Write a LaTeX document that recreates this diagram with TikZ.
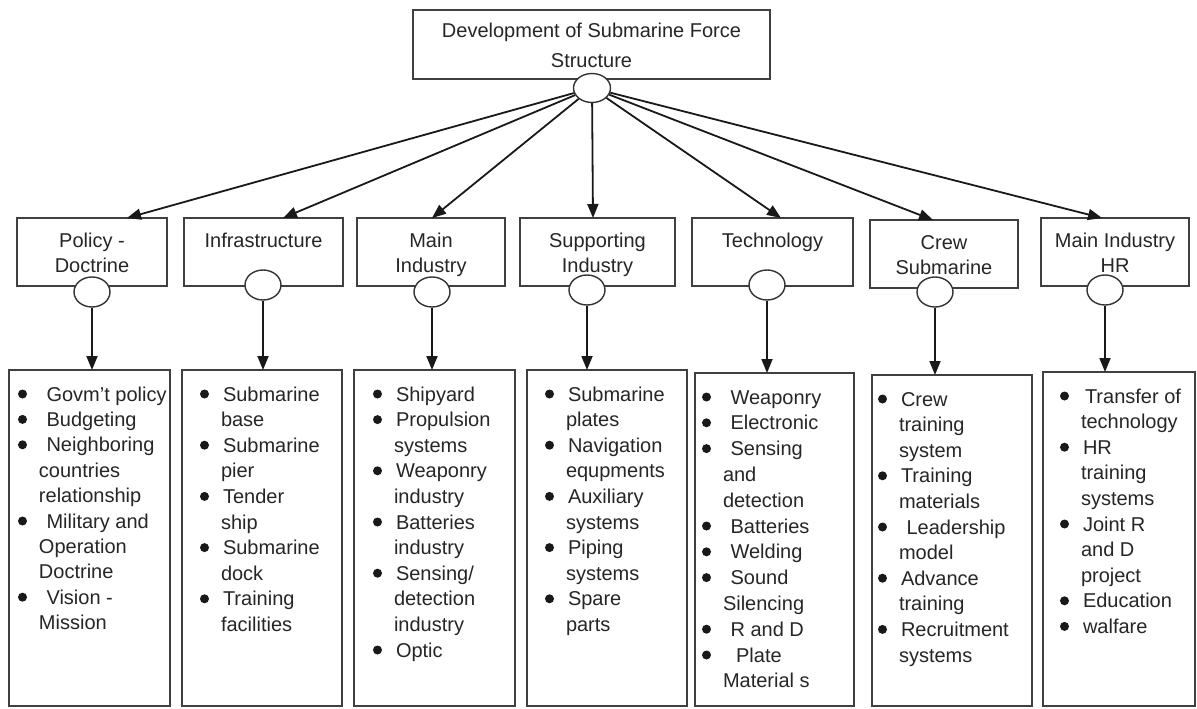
\documentclass[tikz,border=0pt]{standalone}
\usepackage{fontspec}
\setmainfont{Liberation Sans}
\usetikzlibrary{arrows.meta,shapes.geometric}

% list layout: bullet column and indent of wrapped lines
\newlength\bulletw \setlength\bulletw{23pt}
\newlength\contw \setlength\contw{21pt}
\newcommand\dotmark{\tikz[baseline=-7pt]\fill[black!90] (0pt,0pt) circle[radius=4.5pt];}
\newcommand\entry[1]{\makebox[\bulletw][l]{\dotmark}#1\par}
\newcommand\more[1]{\hspace*{\contw}#1\par}
% #1 width, #2 height, #3 left padding, #4 line pitch, #5 lines
\newcommand\listbody[5]{\parbox[c][#2][t]{#1}{\fontsize{20}{#4}\selectfont
  \leftskip=#3\relax\parindent=0pt\parskip=0pt\rule{0pt}{31pt}#5}}
\newcommand\midbody[2]{\parbox[c][68pt][t]{#1}{\centering\fontsize{20}{25}\selectfont
  \rule{0pt}{29pt}#2}}

\tikzset{
  frame/.style={draw=black!75, line width=1.4pt, inner sep=0pt, outer sep=0pt,
    fill=white, text=black!85, anchor=north west},
  joint/.style={ellipse, draw=black!80, line width=1.4pt, fill=white,
    minimum width=36pt, minimum height=30pt, inner sep=0pt},
  arr/.style={line width=1.8pt, draw=black!90, -{Triangle[length=14pt,width=11pt]}},
}

\begin{document}
\begin{tikzpicture}[x=1pt, y=-1pt]
\fill[white] (0,0) rectangle (1197,709);
\useasboundingbox (0,0) rectangle (1197,709);

% root
\node[frame] (top) at (413,10) {\parbox[c][69pt][t]{357pt}{\centering
  \fontsize{20}{30}\selectfont\rule{0pt}{28pt}Development of Submarine Force\\Structure}};
\node[joint, minimum width=37pt, minimum height=29pt] (tc) at (592,88) {};

% second level
\node[frame] (m1) at (17,218)  {\midbody{150pt}{Policy -\\Doctrine}};
\node[frame] (m2) at (184,218) {\midbody{159pt}{Infrastructure}};
\node[frame] (m3) at (357,218) {\midbody{148pt}{Main\\Industry}};
\node[frame] (m4) at (520,218) {\midbody{155pt}{Supporting\\Industry}};
\node[frame] (m5) at (692,218) {\midbody{161pt}{Technology}};
\node[frame] (m6) at (870,220) {\midbody{148pt}{Crew\\Submarine}};
\node[frame] (m7) at (1041,218) {\midbody{148pt}{Main Industry\\HR}};

\node[joint] (c1) at (92,292) {};
\node[joint] (c2) at (263,285) {};
\node[joint] (c3) at (432,292) {};
\node[joint] (c4) at (587,290) {};
\node[joint] (c5) at (767,285) {};
\node[joint] (c6) at (935,292) {};
\node[joint] (c7) at (1105,290) {};

% third level
\node[frame] (l1) at (9,370) {\listbody{161pt}{336pt}{9pt}{25.4pt}{%
  \entry{\ Govm’t policy}
  \entry{\ Budgeting}
  \entry{\ Neighboring}
  \more{countries}
  \more{relationship}
  \entry{\ Military and}
  \more{Operation}
  \more{Doctrine}
  \entry{\ Vision -}
  \more{Mission}}};
\node[frame] (l2) at (182,370) {\listbody{160pt}{336pt}{18pt}{25.6pt}{%
  \entry{Submarine}
  \more{base}
  \entry{Submarine}
  \more{pier}
  \entry{Tender}
  \more{ship}
  \entry{Submarine}
  \more{dock}
  \entry{Training}
  \more{facilities}}};
\node[frame] (l3) at (354,370) {\listbody{161pt}{336pt}{19pt}{25.6pt}{%
  \entry{Shipyard}
  \entry{Propulsion}
  \more{systems}
  \entry{Weaponry}
  \more{industry}
  \entry{Batteries}
  \more{industry}
  \entry{Sensing/}
  \more{detection}
  \more{industry}
  \entry{Optic}}};
\node[frame] (l4) at (527,370) {\listbody{160pt}{336pt}{18pt}{25.6pt}{%
  \entry{Submarine}
  \more{plates}
  \entry{Navigation}
  \more{equpments}
  \entry{Auxiliary}
  \more{systems}
  \entry{Piping}
  \more{systems}
  \entry{Spare}
  \more{parts}}};
\node[frame] (l5) at (695,373) {\listbody{159pt}{333pt}{7pt}{25.8pt}{%
  \entry{\ Weaponry}
  \entry{\ Electronic}
  \entry{\ Sensing}
  \more{and}
  \more{detection}
  \entry{\ Batteries}
  \entry{\ Welding}
  \entry{\ Sound}
  \more{Silencing}
  \entry{\ R and D}
  \entry{\ \ Plate}
  \more{Material s}}};
\node[frame] (l6) at (872,375) {\listbody{160pt}{331pt}{6pt}{25.6pt}{%
  \entry{Crew}
  \more{training}
  \more{system}
  \entry{Training}
  \more{materials}
  \entry{\ Leadership}
  \more{model}
  \entry{Advance}
  \more{training}
  \entry{Recruitment}
  \more{systems}}};
\node[frame] (l7) at (1043,372) {\listbody{152pt}{334pt}{17pt}{25.6pt}{%
  \entry{\hspace{2pt}Transfer of}
  \more{technology}
  \entry{HR}
  \more{training}
  \more{systems}
  \entry{Joint R}
  \more{and D}
  \more{project}
  \entry{Education}
  \entry{walfare}}};

% root to second level
\draw[arr] (tc) -- ([xshift=35pt]m1.north);
\draw[arr] (tc) -- ([xshift=19.5pt]m2.north);
\draw[arr] (tc) -- ([xshift=1pt]m3.north);
\draw[arr] (tc) -- ([xshift=-4.5pt]m4.north);
\draw[arr] (tc) -- ([xshift=8.5pt]m5.north);
\draw[arr] (tc) -- ([xshift=-11pt]m6.north);
\draw[arr] (tc) -- ([xshift=-13pt]m7.north);

% second to third level
\foreach \i in {1,...,7}
  \draw[arr] (c\i) -- (c\i |- l\i.north);
\end{tikzpicture}
\end{document}
